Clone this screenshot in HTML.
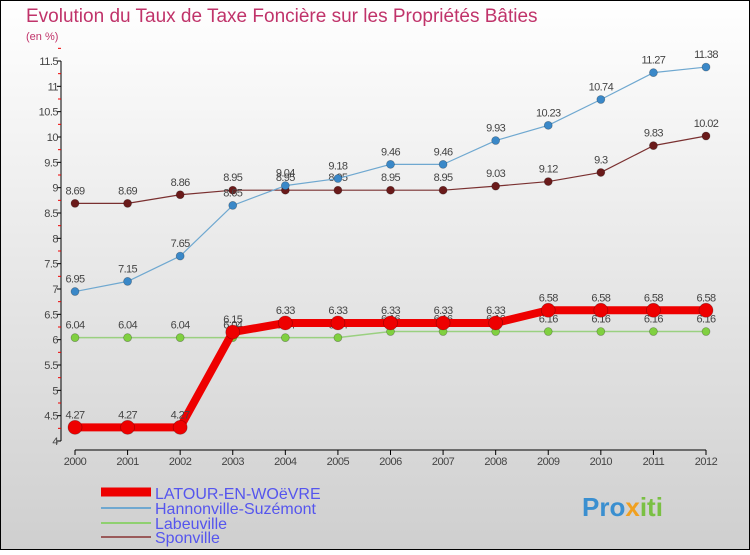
<!DOCTYPE html>
<html><head><meta charset="utf-8"><style>
body{margin:0}
#c{width:750px;height:550px;position:relative;font-family:"Liberation Sans",sans-serif}
</style></head><body>
<div id="c">
<svg id="s" width="750" height="550" xmlns="http://www.w3.org/2000/svg">
<defs><linearGradient id="bg" x1="0" y1="0" x2="0" y2="1"><stop offset="0" stop-color="#ffffff"/><stop offset="1" stop-color="#cfcfcf"/></linearGradient></defs>
<rect x="0.5" y="0.5" width="749" height="549" fill="url(#bg)" stroke="#000"/>
<text x="26" y="22" font-size="19" fill="#c0336a">Evolution du Taux de Taxe Foncière sur les Propriétés Bâties</text>
<text x="26" y="40" font-size="11" fill="#c0336a">(en %)</text>
<g id="g"></g>
<g>
<line x1="101" y1="492" x2="151" y2="492" stroke="#e00" stroke-width="9"/>
<text x="155" y="499" font-size="16" fill="#5555ee">LATOUR-EN-WOëVRE</text>
<line x1="101" y1="508" x2="151" y2="508" stroke="#6fa8d0" stroke-width="2"/>
<text x="155" y="514" font-size="16" fill="#5555ee">Hannonville-Suzémont</text>
<line x1="101" y1="523" x2="151" y2="523" stroke="#8fd070" stroke-width="2"/>
<text x="155" y="529" font-size="16" fill="#5555ee">Labeuville</text>
<line x1="101" y1="537" x2="151" y2="537" stroke="#9a5a5a" stroke-width="2"/>
<text x="155" y="543" font-size="16" fill="#5555ee">Sponville</text>
</g>
<text x="582" y="516" font-size="26" font-weight="bold" fill="#3a8fd0">Pro<tspan fill="#f0a020">x</tspan><tspan fill="#7ac043">iti</tspan></text>
</svg>
</div>
<script>
const years=[2000,2001,2002,2003,2004,2005,2006,2007,2008,2009,2010,2011,2012];
const latour=[4.27,4.27,4.27,6.15,6.33,6.33,6.33,6.33,6.33,6.58,6.58,6.58,6.58];
const hannon=[6.95,7.15,7.65,8.65,9.04,9.18,9.46,9.46,9.93,10.23,10.74,11.27,11.38];
const labeu=[6.04,6.04,6.04,6.04,6.04,6.04,6.16,6.16,6.16,6.16,6.16,6.16,6.16];
const spon=[8.69,8.69,8.86,8.95,8.95,8.95,8.95,8.95,9.03,9.12,9.3,9.83,10.02];
const yTicks=[4,4.5,5,5.5,6,6.5,7,7.5,8,8.5,9,9.5,10,10.5,11,11.5];
const NS="http://www.w3.org/2000/svg",g=document.getElementById('g');
const X=i=>75+i*(706-75)/(years.length-1);
const Y=v=>441-(v-4)*(441-61)/(11.5-4);
function el(t,a,n){const e=document.createElementNS(NS,t);for(const k in a)e.setAttribute(k,a[k]);g.appendChild(e);return e;}
let ax=el('line',{x1:61,y1:61,x2:61,y2:441,stroke:'#000'});


yTicks.forEach(v=>{
 let t=el('line',{x1:57,x2:61,y1:Y(v),y2:Y(v),stroke:'#000'});
 
 
 let m=el('line',{x1:58,x2:61,y1:Y(v+0.25),y2:Y(v+0.25),stroke:'#e00'});
 
 
 let l=el('text',{x:58,y:Y(v)+4,'font-size':11,'text-anchor':'end',fill:'#444','letter-spacing':'-0.5'});
 l.textContent=String(v);
 
 
});
let xa=el('line',{x1:75,x2:706,y1:450,y2:450,stroke:'#000'});


years.forEach((y,i)=>{
 let t=el('line',{x1:X(i),x2:X(i),y1:450,y2:455,stroke:'#000'});
 
 
 let l=el('text',{x:X(i),y:465,'font-size':11,'text-anchor':'middle',fill:'#444','letter-spacing':'-0.5'});
 l.textContent=y;
 
 
});
function series(d,col,w,r,fill,name){
 let p=el('polyline',{points:d.map((v,i)=>X(i)+','+Y(v)).join(' '),fill:'none',stroke:col,'stroke-width':w,'stroke-linejoin':'round'});
 
 
 d.forEach((v,i)=>{
  let c=el('circle',{cx:X(i),cy:Y(v),r:r,fill:fill,stroke:'rgba(0,0,0,0.3)','stroke-width':0.7});
  
  
  let t=el('text',{x:X(i),y:Y(v)-9,'font-size':11,'text-anchor':'middle',fill:'#444','letter-spacing':'-0.6'});
  t.textContent=String(v);
  
  
 });
}
series(spon,'#7a3030',1.2,4,'#6a1a1a','sponville');
series(hannon,'#6fa8d0',1.2,4,'#3a88c8','hannonville');
series(labeu,'#9ad080',1.5,4,'#80d040','labeuville');
series(latour,'#ee0000',8,7,'#ee0000','latour');
</script>
</body></html>
